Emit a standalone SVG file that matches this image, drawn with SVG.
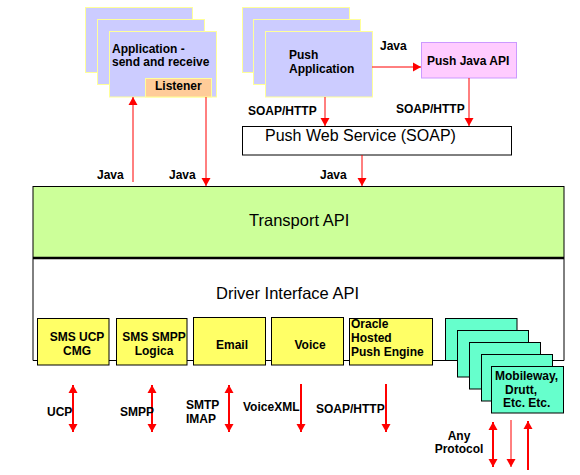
<svg xmlns="http://www.w3.org/2000/svg" width="580" height="475" viewBox="0 0 580 475">
<defs>
<marker id="ah" markerUnits="userSpaceOnUse" markerWidth="9" markerHeight="10" refX="8" refY="4.5" orient="auto-start-reverse" viewBox="0 0 9 9">
<path d="M0,0 L8,4.5 L0,9 z" fill="#FF0000"/>
</marker>
</defs>
<style>
text{font-family:"Liberation Sans",Arial,sans-serif;fill:#000}
.s{font-size:12px;font-weight:bold}
.b{font-size:16.5px}
.card{fill:#CCCCFF;stroke:#FFFF99;stroke-width:1}
.yel{fill:#FFFF66;stroke:#000;stroke-width:1}
.cy{fill:#66FFCC;stroke:#000;stroke-width:1}
.c1{stroke:#FF0000;stroke-width:1;fill:none;marker-end:url(#ah)}
.c2{stroke:#FF0000;stroke-width:2;fill:none}
.end{marker-end:url(#ah)}
.both{marker-start:url(#ah);marker-end:url(#ah)}
.m{text-anchor:middle}
</style>

<g id="transport-api">
<rect x="33" y="186.5" width="531" height="71" fill="#CCFF99" stroke="#000" stroke-width="1"/>
<text class="b" x="249" y="226">Transport API</text>
</g>
<g id="driver-interface-api">
<path d="M33,258 L33,360.5 L564,360.5 L564,258" fill="#FFFFFF" stroke="#000" stroke-width="1"/>
<line x1="33" y1="258" x2="564" y2="258" stroke="#000" stroke-width="2.5"/>
<text class="b" x="216" y="299">Driver Interface API</text>
</g>

<g id="app-send-receive">
<rect class="card" x="85.5" y="7.5" width="107" height="65"/>
<rect class="card" x="97.5" y="19.5" width="107" height="65"/>
<rect class="card" x="109.5" y="31.5" width="107" height="65.5"/>
<text class="s" x="112" y="52.5">Application -</text>
<text class="s" x="112" y="66">send and receive</text>
</g>
<g id="listener">
<rect x="145.5" y="78.5" width="66" height="18.5" fill="#FFCC99" stroke="#FFFF99" stroke-width="1"/>
<text class="s" x="155" y="90">Listener</text>
</g>

<g id="push-application">
<rect class="card" x="242.5" y="7.5" width="107" height="65"/>
<rect class="card" x="253.5" y="19.5" width="107" height="65"/>
<rect class="card" x="265.5" y="31.5" width="107" height="65.5"/>
<text class="s" x="289" y="59">Push</text>
<text class="s" x="289" y="73">Application</text>
</g>

<g id="push-java-api">
<rect x="421.5" y="42.5" width="95" height="35.5" fill="#FFCCFF" stroke="#CC99FF" stroke-width="1"/>
<text class="s" x="427" y="65">Push Java API</text>
</g>

<g id="push-web-service">
<rect x="242.5" y="126.5" width="269" height="28.5" fill="#FFFFFF" stroke="#000" stroke-width="1"/>
<text x="265" y="141" style="font-size:16px">Push Web Service (SOAP)</text>
</g>

<g id="sms-ucp-cmg">
<rect class="yel" x="37.5" y="318.5" width="71.5" height="46.5"/>
<text class="s m" x="77" y="341">SMS UCP</text>
<text class="s m" x="77" y="354.5">CMG</text>
</g>
<g id="sms-smpp-logica">
<rect class="yel" x="116.5" y="318.5" width="70.5" height="46.5"/>
<text class="s m" x="154" y="341">SMS SMPP</text>
<text class="s m" x="154" y="354.5">Logica</text>
</g>
<g id="email">
<rect class="yel" x="193.5" y="317.5" width="72" height="47.5"/>
<text class="s m" x="232" y="349">Email</text>
</g>
<g id="voice">
<rect class="yel" x="271.5" y="317.5" width="72" height="47.5"/>
<text class="s m" x="310" y="349">Voice</text>
</g>
<g id="oracle-hosted-push-engine">
<rect class="yel" x="349.5" y="318.5" width="83" height="46.5"/>
<text class="s" x="351" y="328">Oracle</text>
<text class="s" x="351" y="342">Hosted</text>
<text class="s" x="351" y="356">Push Engine</text>
</g>

<g id="other-drivers">
<rect class="cy" x="445.5" y="318.5" width="71.5" height="42"/>
<rect class="cy" x="457.5" y="330.5" width="71" height="46.5"/>
<rect class="cy" x="469.5" y="342.5" width="71" height="46.5"/>
<rect class="cy" x="481.5" y="354.5" width="71" height="46.5"/>
<rect class="cy" x="491.5" y="366.5" width="72" height="46.5"/>
<text class="s" x="495" y="380">Mobileway,</text>
<text class="s" x="505" y="393.5">Drutt,</text>
<text class="s" x="503" y="407">Etc. Etc.</text>
</g>

<g id="connectors">
<line class="c1" x1="133" y1="182" x2="133" y2="97"/>
<line class="c1" x1="206" y1="97" x2="206" y2="186"/>
<line class="c1" x1="372" y1="67" x2="421" y2="67"/>
<line class="c1" x1="325" y1="97" x2="325" y2="126"/>
<line class="c1" x1="469" y1="78" x2="469" y2="126"/>
<line class="c1" x1="362" y1="155" x2="362" y2="186"/>
<line class="c2 both" x1="73" y1="385" x2="73" y2="432"/>
<line class="c2 both" x1="152" y1="385" x2="152" y2="432"/>
<line class="c2 both" x1="229" y1="385" x2="229" y2="432"/>
<line class="c2 end" x1="301" y1="384" x2="301" y2="432"/>
<line class="c2 end" x1="386" y1="384" x2="386" y2="432"/>
<line class="c2 both" x1="493" y1="422" x2="493" y2="467"/>
<line class="c1" x1="511" y1="420" x2="511" y2="467"/>
<line class="c2 end" x1="528" y1="470" x2="528" y2="421"/>
</g>

<g id="labels">
<text class="s" x="380" y="50">Java</text>
<text class="s" x="248" y="115">SOAP/HTTP</text>
<text class="s" x="396" y="113">SOAP/HTTP</text>
<text class="s" x="97" y="179">Java</text>
<text class="s" x="169" y="179">Java</text>
<text class="s" x="320" y="179">Java</text>
<text class="s" x="47" y="416">UCP</text>
<text class="s" x="120" y="416">SMPP</text>
<text class="s" x="186" y="409">SMTP</text>
<text class="s" x="186" y="423">IMAP</text>
<text class="s" x="243" y="411">VoiceXML</text>
<text class="s" x="316" y="413">SOAP/HTTP</text>
<text class="s m" x="459" y="440">Any</text>
<text class="s m" x="459" y="453">Protocol</text>
</g>
</svg>
